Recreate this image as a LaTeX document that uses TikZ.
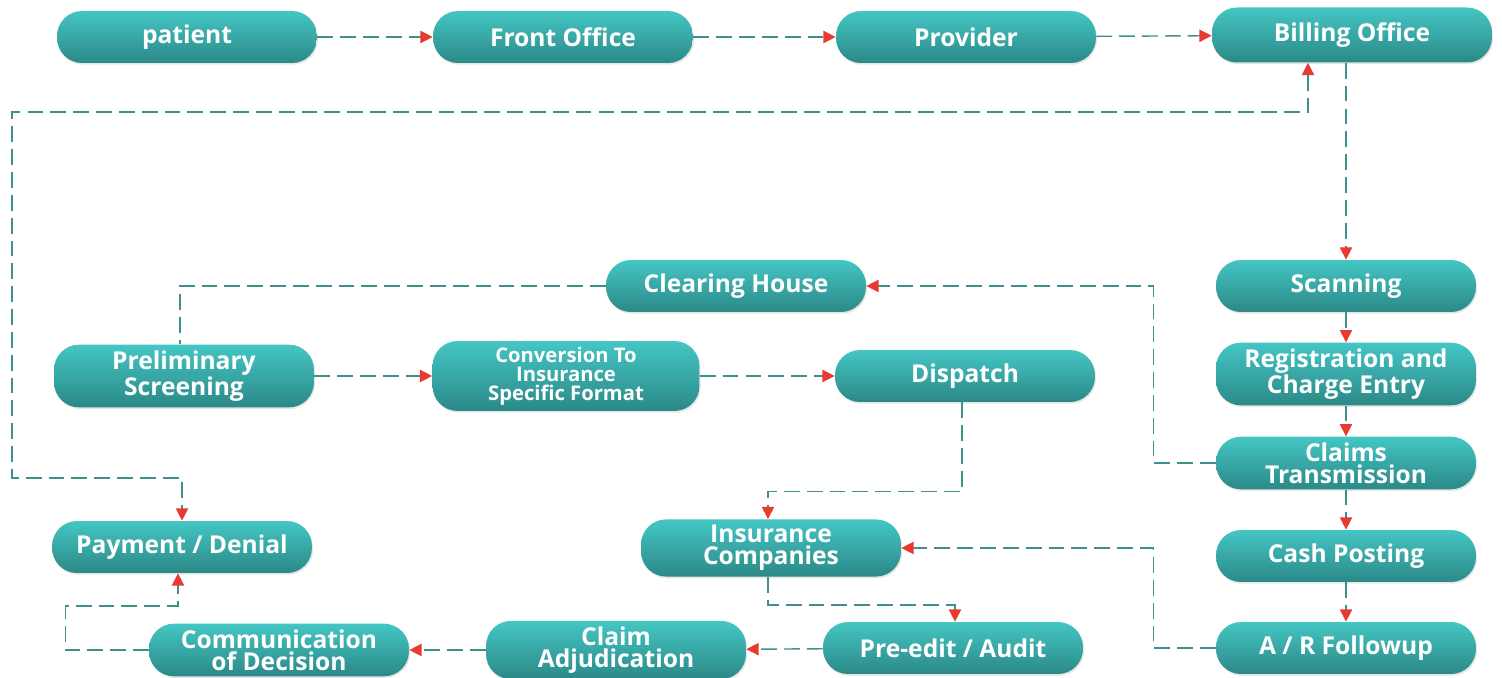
\documentclass[tikz,border=0pt]{standalone}
\usepackage{fontspec}
\setmainfont{Open Sans}
\usepackage{tikz}
\usetikzlibrary{arrows.meta,shapes,shadows}
\definecolor{tealtop}{HTML}{44C6C4}
\definecolor{tealbot}{HTML}{2B8987}
\definecolor{wire}{HTML}{3F8F8D}
\definecolor{tipred}{HTML}{E63B2E}

\begin{document}
\begin{tikzpicture}
                [
                x=0.02cm,y=-0.02cm,
                box/.style={rectangle,rounded corners=0.5cm,minimum width=5.2cm,minimum height=1.04cm,
                  top color=tealtop,bottom color=tealbot,draw=none,text=white,align=center,
                  font=\fontsize{14}{12.5}\selectfont\bfseries,
                  drop shadow={opacity=0.2,shadow xshift=0.6pt,shadow yshift=-1pt}},
                line/.style={draw=wire,line width=0.8pt,dash pattern=on 9pt off 4pt},
                edge/.style={line,-{Triangle[length=7pt,width=7pt,color=tipred]}},
                both/.style={line,{Triangle[length=7pt,width=7pt,color=tipred]}-{Triangle[length=7pt,width=7pt,color=tipred]}}
                ]
            \useasboundingbox (0,0) rectangle (1502,678);
            \node[box] (1) at (187,37) {patient};
            \node[box] (2) at (563,37) {Front Office};
            \node[box] (3) at (966,37) {Provider};
            \node[box,minimum width=5.6cm,minimum height=1.1cm] (4) at (1352,35) {Billing Office};
            \node[box] (5) at (1346,286) {Scanning};
            \node[box] (6) at (1346,374) {Registration and\\Charge Entry};
            \node[box] (7) at (1346,463) {Claims\\Transmission};
            \node[box] (8) at (1346,556) {Cash Posting};
            \node[box] (9) at (1346,648) {A / R Followup};
            \node[box] (10) at (736,286) {Clearing House};
            \node[box] (11) at (184,376) {Preliminary\\Screening};
            \node[box,minimum width=5.34cm,minimum height=1.24cm,font=\fontsize{11.5}{10.8}\selectfont\bfseries] (12) at (566,376) {Conversion To\\Insurance\\Specific Format};
            \node[box] (13) at (965,376) {Dispatch};
            \node[box] (14) at (771,548) {Insurance\\Companies};
            \node[box] (15) at (953,648) {Pre-edit / Audit};
            \node[box] (16) at (616,650) {Claim\\Adjudication};
            \node[box] (17) at (279,650) {Communication\\of Decision};
            \node[box] (18) at (182,547) {Payment / Denial};
            \draw[edge] (1) -- (2);
            \draw[edge] (2) -- (3);
            \draw[edge] (3) -- (4);
            \draw[edge] (5.north |- 4.south) -- (5.north);
            \draw[edge] (5) -- (6);
            \draw[edge] (6) -- (7);
            \draw[edge] (7) -- (8);
            \draw[edge] (8) -- (9);
            \draw[edge] (7.west) -- ++(-62,0) |- (10.east);
            \draw[line] (10.west) -| ([xshift=-0.08cm]11.north);
            \draw[edge] (11) -- (12);
            \draw[edge] (12) -- (13);
            \draw[edge] ([xshift=-0.06cm]13.south) -- ++(0,89) -| ([xshift=-0.06cm]14.north);
            \draw[edge] ([xshift=-0.06cm]14.south) -- ++(0,28) -| ([xshift=0.04cm]15.north);
            \draw[edge] (9.west) -- ++(-62,0) |- (14.east);
            \draw[edge] (15) -- (16);
            \draw[edge] (16) -- (17);
            \draw[edge] (17.west) -- ++(-83,0) -- ++(0,-44) -| ([xshift=-0.08cm]18.south);
            \draw[both] ([xshift=-0.88cm]4.south) |- (12,112) -- (12,478) -| (18.north);
            \end{tikzpicture}
\end{document}
